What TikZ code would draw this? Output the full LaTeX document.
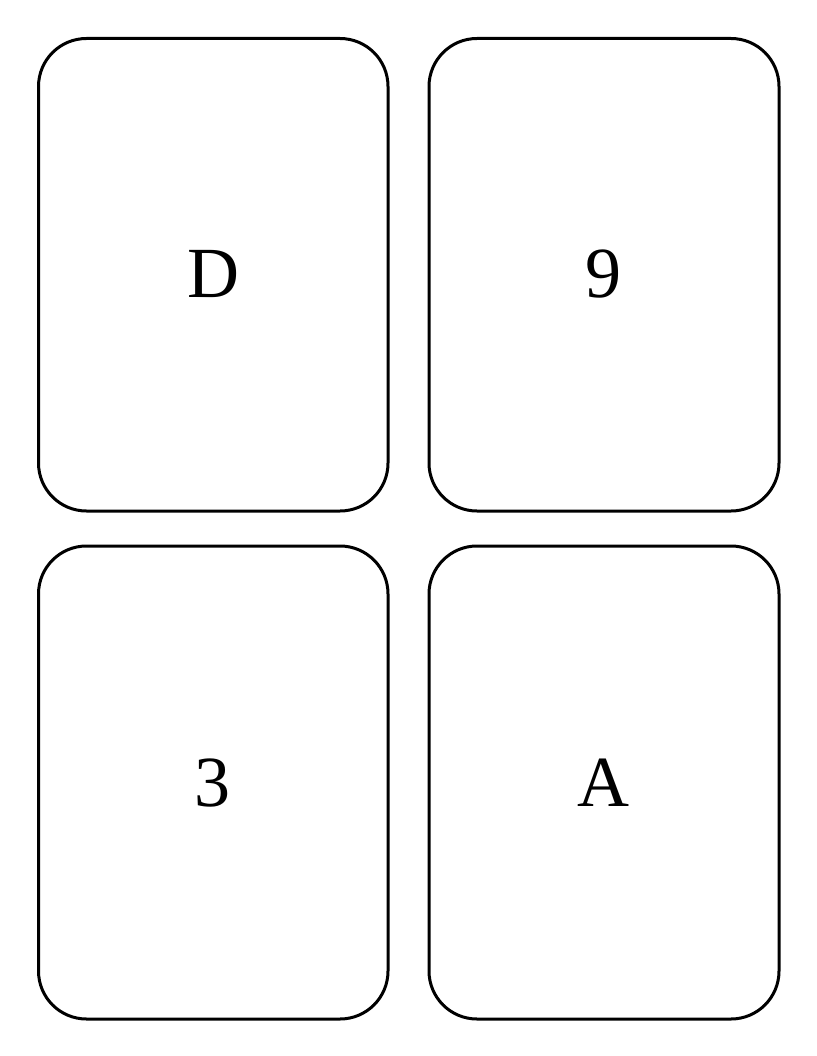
\documentclass[tikz,border=0pt]{standalone}
\usepackage{fontspec}
\setmainfont{Liberation Serif}
\begin{document}
\begin{tikzpicture}[x=1pt,y=-1pt,
  card/.style={draw=black,line width=3pt,rounded corners=48pt,fill=white},
  lbl/.style={font=\fontsize{72}{72}\selectfont,inner sep=0pt}]
\useasboundingbox (0,0) rectangle (816,1056);
\draw[card] (38.5,38.5) rectangle (388,511);
\draw[card] (429,38.5) rectangle (779,511);
\draw[card] (38.5,546) rectangle (388,1019);
\draw[card] (429,546) rectangle (779,1019);
\node[lbl] (d) at (213,274) {D};
\node[lbl] (n9) at (603,274) {9};
\node[lbl] (n3) at (212,783) {3};
\node[lbl] (a) at (603,783) {A};
\end{tikzpicture}
\end{document}
